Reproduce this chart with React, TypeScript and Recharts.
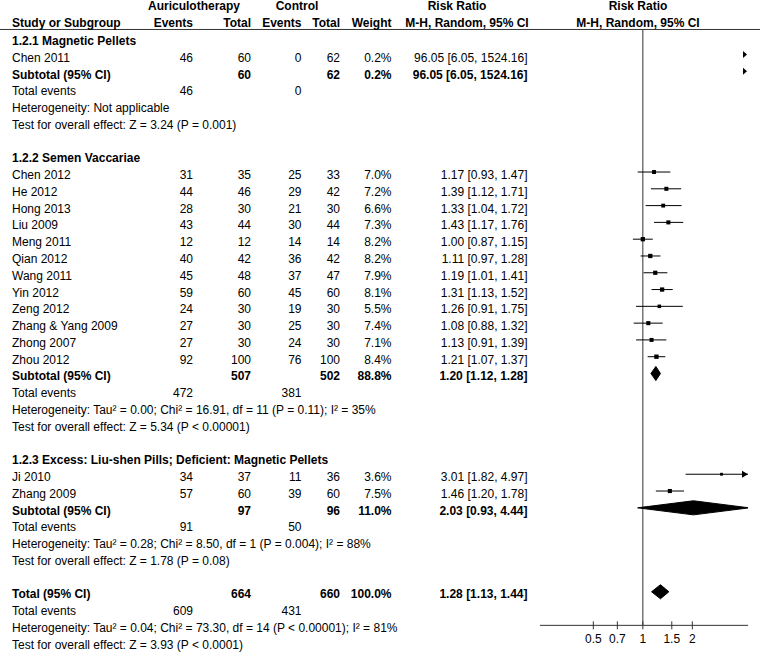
import React from "react";
import { ComposedChart, ScatterChart, Scatter, XAxis, YAxis, ReferenceLine } from "recharts";

const FONT = '"Liberation Sans", Arial, sans-serif';

// studies, in display order
const studies = [
  "Chen 2011",
  "Chen 2012", "He 2012", "Hong 2013", "Liu 2009", "Meng 2011", "Qian 2012",
  "Wang 2011", "Yin 2012", "Zeng 2012", "Zhang & Yang 2009", "Zhong 2007", "Zhou 2012",
  "Ji 2010", "Zhang 2009",
];
const studyGroup = [0, 1, 1, 1, 1, 1, 1, 1, 1, 1, 1, 1, 1, 2, 2];
const auEvents = [46, 31, 44, 28, 43, 12, 40, 45, 59, 24, 27, 27, 92, 34, 57];
const auTotal = [60, 35, 46, 30, 44, 12, 42, 48, 60, 30, 30, 30, 100, 37, 60];
const ctEvents = [0, 25, 29, 21, 30, 14, 36, 37, 45, 19, 25, 24, 76, 11, 39];
const ctTotal = [62, 33, 42, 30, 44, 14, 42, 47, 60, 30, 30, 30, 100, 36, 60];
const weights = [0.2, 7.0, 7.2, 6.6, 7.3, 8.2, 8.2, 7.9, 8.1, 5.5, 7.4, 7.1, 8.4, 3.6, 7.5];
const rr = [96.05, 1.17, 1.39, 1.33, 1.43, 1.0, 1.11, 1.19, 1.31, 1.26, 1.08, 1.13, 1.21, 3.01, 1.46];
const rrLow = [6.05, 0.93, 1.12, 1.04, 1.17, 0.87, 0.97, 1.01, 1.13, 0.91, 0.88, 0.91, 1.07, 1.82, 1.2];
const rrHigh = [1524.16, 1.47, 1.71, 1.72, 1.76, 1.15, 1.28, 1.41, 1.52, 1.75, 1.32, 1.39, 1.37, 4.97, 1.78];

// subgroups
const groupTitles = [
  "1.2.1 Magnetic Pellets",
  "1.2.2 Semen Vaccariae",
  "1.2.3 Excess: Liu-shen Pills; Deficient: Magnetic Pellets",
];
const groupAuTotal = [60, 507, 97];
const groupCtTotal = [62, 502, 96];
const groupAuEvents = [46, 472, 91];
const groupCtEvents = [0, 381, 50];
const groupWeight = [0.2, 88.8, 11.0];
const groupRR = [96.05, 1.2, 2.03];
const groupLow = [6.05, 1.12, 0.93];
const groupHigh = [1524.16, 1.28, 4.44];
const groupHeterogeneity = [
  "Heterogeneity: Not applicable",
  "Heterogeneity: Tau² = 0.00; Chi² = 16.91, df = 11 (P = 0.11); I² = 35%",
  "Heterogeneity: Tau² = 0.28; Chi² = 8.50, df = 1 (P = 0.004); I² = 88%",
];
const groupOverall = [
  "Test for overall effect: Z = 3.24 (P = 0.001)",
  "Test for overall effect: Z = 5.34 (P < 0.00001)",
  "Test for overall effect: Z = 1.78 (P = 0.08)",
];

// overall
const totalAu = 664;
const totalCt = 660;
const totalAuEvents = 609;
const totalCtEvents = 431;
const totalWeight = 100.0;
const totalRR = [1.28, 1.13, 1.44];
const totalHeterogeneity = "Heterogeneity: Tau² = 0.04; Chi² = 73.30, df = 14 (P < 0.00001); I² = 81%";
const totalOverall = "Test for overall effect: Z = 3.93 (P < 0.0001)";

const xTicks = [0.5, 0.7, 1, 1.5, 2];
const XMIN = 0.237;
const XMAX = 4.36;

// layout
const W = 760;
const H = 654;
// marks (forest) rows
const ROW0 = 37.7;
const PITCH = 16.79;
const FOREST_MIN = -0.49;
const FOREST_MAX = 35;
// text rows sit a little below the marks, as in the source
const TEXT_ROW0 = 41.0;
const TEXT_PITCH = 16.77;
const TABLE_MIN = -2.2;
const TABLE_MAX = 36.5;
const HEADER_ROWS = [-2.09, -1.07];
const HEADER_LINE = (ROW0 + FOREST_MIN * PITCH - TEXT_ROW0) / TEXT_PITCH;
const COL = { name: 12, auEv: 193, auTot: 251, ctEv: 301.5, ctTot: 340, weight: 391.5, rr: 527.5 };
const HEAD = { au: 194, ct: 297, rrTitle: 457, rrSub: 467, plot: 638 };

const fmtW = (w: number) => `${w.toFixed(1)}%`;
const fmtRR = (e: number, l: number, h: number) => `${e.toFixed(2)} [${l.toFixed(2)}, ${h.toFixed(2)}]`;

type Cell = { text: string; x: number; anchor: "start" | "middle" | "end"; bold?: boolean };
type TableRow = { x: number; y: number; cells: Cell[] };

const L = (text: string, x: number, bold = false): Cell => ({ text, x, anchor: "start", bold });
const R = (text: string | number, x: number, bold = false): Cell => ({ text: String(text), x, anchor: "end", bold });
const C = (text: string, x: number, bold = false): Cell => ({ text, x, anchor: "middle", bold });

// build rows
const tableRows: TableRow[] = [
  {
    x: 0,
    y: HEADER_ROWS[0],
    cells: [C("Auriculotherapy", HEAD.au, true), C("Control", HEAD.ct, true), C("Risk Ratio", HEAD.rrTitle, true), C("Risk Ratio", HEAD.plot, true)],
  },
  {
    x: 0,
    y: HEADER_ROWS[1],
    cells: [
      L("Study or Subgroup", COL.name, true),
      R("Events", COL.auEv, true),
      R("Total", COL.auTot, true),
      R("Events", COL.ctEv, true),
      R("Total", COL.ctTot, true),
      R("Weight", COL.weight, true),
      C("M-H, Random, 95% CI", HEAD.rrSub, true),
      C("M-H, Random, 95% CI", HEAD.plot, true),
    ],
  },
];
const studyRow: number[] = [];
const groupRow: number[] = [];
let r = 0;
groupTitles.forEach((title, g) => {
  tableRows.push({ x: 0, y: r++, cells: [L(title, COL.name, true)] });
  studies.forEach((name, i) => {
    if (studyGroup[i] !== g) return;
    studyRow[i] = r;
    tableRows.push({
      x: 0,
      y: r++,
      cells: [
        L(name, COL.name),
        R(auEvents[i], COL.auEv),
        R(auTotal[i], COL.auTot),
        R(ctEvents[i], COL.ctEv),
        R(ctTotal[i], COL.ctTot),
        R(fmtW(weights[i]), COL.weight),
        R(fmtRR(rr[i], rrLow[i], rrHigh[i]), COL.rr),
      ],
    });
  });
  groupRow[g] = r;
  tableRows.push({
    x: 0,
    y: r++,
    cells: [
      L("Subtotal (95% CI)", COL.name, true),
      R(groupAuTotal[g], COL.auTot, true),
      R(groupCtTotal[g], COL.ctTot, true),
      R(fmtW(groupWeight[g]), COL.weight, true),
      R(fmtRR(groupRR[g], groupLow[g], groupHigh[g]), COL.rr, true),
    ],
  });
  tableRows.push({ x: 0, y: r++, cells: [L("Total events", COL.name), R(groupAuEvents[g], COL.auEv), R(groupCtEvents[g], COL.ctEv)] });
  tableRows.push({ x: 0, y: r++, cells: [L(groupHeterogeneity[g], COL.name)] });
  tableRows.push({ x: 0, y: r++, cells: [L(groupOverall[g], COL.name)] });
  r++;
});
const totalRow = r;
tableRows.push({
  x: 0,
  y: r++,
  cells: [
    L("Total (95% CI)", COL.name, true),
    R(totalAu, COL.auTot, true),
    R(totalCt, COL.ctTot, true),
    R(fmtW(totalWeight), COL.weight, true),
    R(fmtRR(totalRR[0], totalRR[1], totalRR[2]), COL.rr, true),
  ],
});
tableRows.push({ x: 0, y: r++, cells: [L("Total events", COL.name), R(totalAuEvents, COL.auEv), R(totalCtEvents, COL.ctEv)] });
tableRows.push({ x: 0, y: r++, cells: [L(totalHeterogeneity, COL.name)] });
tableRows.push({ x: 0, y: r++, cells: [L(totalOverall, COL.name)] });

// forest marks
const ciSegments = studies.map((_, i) => ({ lo: rrLow[i], hi: rrHigh[i], row: studyRow[i] }));
const squares = studies.map((_, i) => ({ x: rr[i], y: studyRow[i], w: weights[i] }));
const studyArrows = studies
  .map((_, i) => ({ x: Math.min(rrHigh[i], XMAX), y: studyRow[i], lo: rrLow[i], hi: rrHigh[i] }))
  .filter((a) => a.hi > XMAX);
// a subgroup whose whole interval is off the scale is shown as a marker at the edge
const groupArrows = groupTitles
  .map((_, g) => ({ x: Math.min(groupHigh[g], XMAX), y: groupRow[g], lo: groupLow[g], hi: groupHigh[g] }))
  .filter((a) => a.lo > XMAX);
const arrows = [...studyArrows, ...groupArrows];

const DH = 0.42;
const diamondOf = (e: number, lo: number, hi: number, row: number) => [
  { x: lo, y: row },
  { x: e, y: row - DH },
  { x: hi, y: row },
  { x: e, y: row + DH },
  { x: lo, y: row },
];
const diamonds = [
  ...groupTitles.map((_, g) => ({ key: `g${g}`, e: groupRR[g], lo: groupLow[g], hi: groupHigh[g], row: groupRow[g] })),
  { key: "total", e: totalRR[0], lo: totalRR[1], hi: totalRR[2], row: totalRow },
]
  .filter((d) => d.lo < XMAX)
  .map((d) => ({ key: d.key, points: diamondOf(d.e, d.lo, d.hi, d.row) }));

function RowShape(props: any) {
  const { cy, payload } = props;
  return (
    <g>
      {payload.cells.map((c: Cell, i: number) => (
        <text
          key={i}
          x={c.x}
          y={cy}
          textAnchor={c.anchor}
          dominantBaseline="central"
          fontFamily={FONT}
          fontSize={12}
          fontWeight={c.bold ? "bold" : "normal"}
          fill="#000"
        >
          {c.text}
        </text>
      ))}
    </g>
  );
}

function SquareShape(props: any) {
  const { cx, cy, payload } = props;
  const s = 1.5 * Math.sqrt(payload.w);
  return <rect x={cx - s / 2} y={cy - s / 2} width={s} height={s} fill="#000" />;
}

function ArrowShape(props: any) {
  const { cx, cy, payload } = props;
  const big = payload.lo < XMAX;
  const len = big ? 6 : 4;
  const half = big ? 3.5 : 3.5;
  const tip = big ? cx : cx - 1;
  return <polygon points={`${tip},${cy} ${tip - len},${cy - half} ${tip - len},${cy + half}`} fill="#000" />;
}

function AxisTick(props: any) {
  const { x, y, payload } = props;
  return (
    <g>
      <line x1={x} x2={x} y1={y - 4} y2={y + 4} stroke="#333" />
      <text x={x} y={y + 14} textAnchor="middle" dominantBaseline="central" fontFamily={FONT} fontSize={12} fill="#000">
        {payload.value}
      </text>
    </g>
  );
}

const Empty = () => <g />;

export default function App() {
  const tableTop = TEXT_ROW0 + TABLE_MIN * TEXT_PITCH;
  const tableBottom = H - (TEXT_ROW0 + TABLE_MAX * TEXT_PITCH);
  const forestTop = ROW0 + FOREST_MIN * PITCH;
  const axisH = H - (ROW0 + FOREST_MAX * PITCH);
  return (
    <div style={{ position: "absolute", left: 0, top: 0, width: W, height: H, background: "#fff" }}>
      <div style={{ position: "absolute", left: 0, top: 0 }}>
        <ComposedChart width={W} height={H} margin={{ top: forestTop, right: 12, bottom: 0, left: 540 }}>
          <XAxis
            dataKey="x"
            type="number"
            scale="log"
            domain={[XMIN, XMAX]}
            allowDataOverflow
            ticks={xTicks}
            interval={0}
            height={axisH}
            tickLine={false}
            tickSize={0}
            tickMargin={0}
            axisLine={{ stroke: "#333" }}
            tick={<AxisTick />}
          />
          <YAxis dataKey="y" type="number" domain={[FOREST_MIN, FOREST_MAX]} reversed hide allowDataOverflow />
          <ReferenceLine x={1} stroke="#333" ifOverflow="hidden" />
          {ciSegments.map((s, i) => (
            <ReferenceLine
              key={`ci${i}`}
              segment={[{ x: s.lo, y: s.row }, { x: s.hi, y: s.row }]}
              stroke="#000"
              ifOverflow="hidden"
            />
          ))}
          <Scatter data={squares} shape={<SquareShape />} isAnimationActive={false} />
          <Scatter data={arrows} shape={<ArrowShape />} isAnimationActive={false} />
          {diamonds.map((d) => (
            <Scatter
              key={d.key}
              data={d.points}
              fill="#000"
              shape={<Empty />}
              line={{ fill: "#000", stroke: "#000", strokeWidth: 1 }}
              lineType="joint"
              isAnimationActive={false}
            />
          ))}
        </ComposedChart>
      </div>
      <div style={{ position: "absolute", left: 0, top: 0 }}>
        <ScatterChart width={W} height={H} margin={{ top: tableTop, right: 0, bottom: tableBottom, left: 0 }}>
          <XAxis dataKey="x" type="number" domain={[0, W]} hide />
          <YAxis dataKey="y" type="number" domain={[TABLE_MIN, TABLE_MAX]} reversed hide />
          <ReferenceLine y={HEADER_LINE} stroke="#333" />
          <Scatter data={tableRows} shape={<RowShape />} isAnimationActive={false} />
        </ScatterChart>
      </div>
    </div>
  );
}
